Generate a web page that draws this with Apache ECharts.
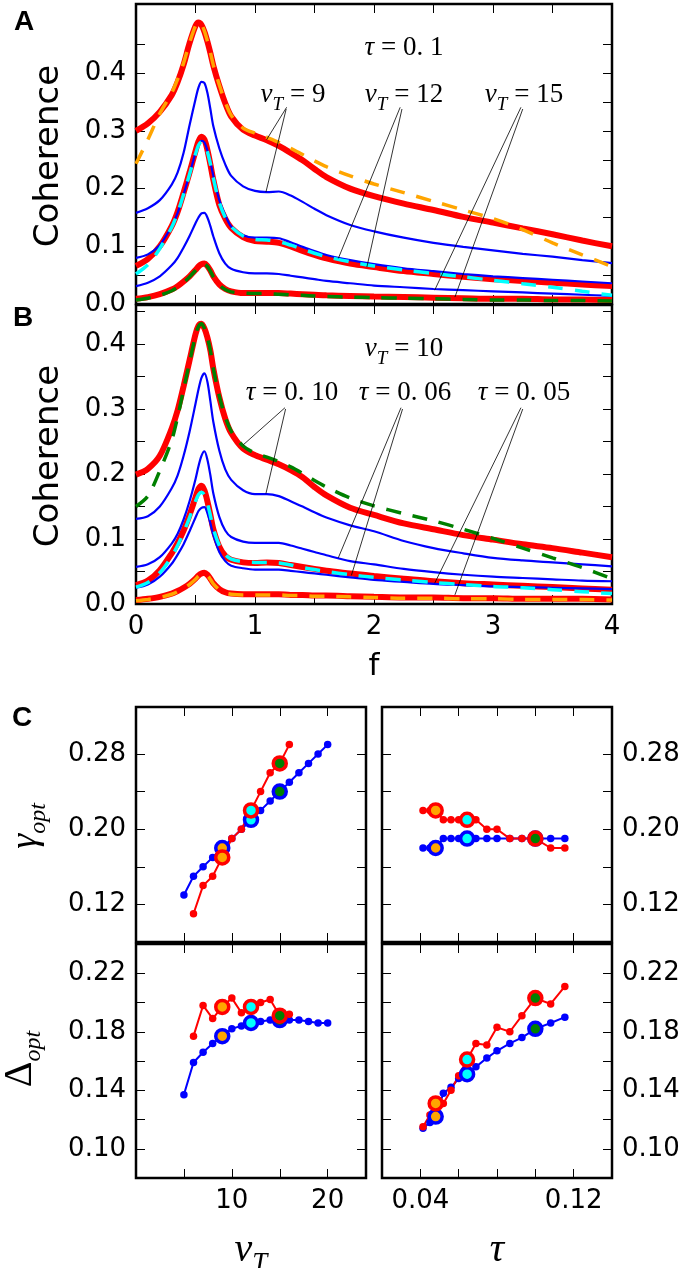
<!DOCTYPE html>
<html><head><meta charset="utf-8">
<script src="https://cdn.jsdelivr.net/npm/echarts@6/dist/echarts.min.js"></script>
<style>html,body{margin:0;padding:0;background:#fff}#c{width:685px;height:1268px}</style>
</head><body><div id="c"></div>
<script>
// ---------- Panels A & B : coherence vs f ----------
const F = [0,0.1,0.2,0.3,0.35,0.4,0.45,0.5,0.525,0.55,0.575,0.6,0.625,0.65,0.7,0.75,0.8,0.9,1.0,1.1,1.2,1.3,1.4,1.5,1.6,1.8,2.0,2.25,2.5,2.75,3.0,3.25,3.5,3.75,4.0];
// Panel A (tau = 0.1)
const aRed1 = [0.300,0.313,0.333,0.362,0.385,0.415,0.452,0.482,0.488,0.484,0.472,0.455,0.435,0.413,0.378,0.348,0.325,0.302,0.292,0.284,0.274,0.262,0.249,0.234,0.220,0.200,0.187,0.174,0.163,0.151,0.141,0.131,0.121,0.110,0.100];
const aOrange = [0.243,0.285,0.330,0.366,0.390,0.418,0.453,0.482,0.488,0.485,0.473,0.456,0.436,0.414,0.380,0.350,0.327,0.305,0.296,0.289,0.280,0.270,0.259,0.248,0.238,0.222,0.208,0.193,0.178,0.163,0.148,0.129,0.106,0.085,0.065];
const aBlue1 = [0.158,0.166,0.180,0.207,0.228,0.262,0.310,0.355,0.375,0.385,0.383,0.366,0.338,0.308,0.270,0.242,0.222,0.204,0.196,0.194,0.195,0.188,0.177,0.165,0.154,0.137,0.126,0.115,0.106,0.099,0.093,0.087,0.082,0.076,0.071];
const aRed2 = [0.066,0.078,0.100,0.135,0.160,0.193,0.228,0.265,0.282,0.290,0.285,0.267,0.242,0.215,0.172,0.148,0.132,0.116,0.109,0.108,0.106,0.100,0.092,0.085,0.079,0.070,0.064,0.057,0.052,0.047,0.043,0.040,0.037,0.034,0.031];
const aCyan = [0.052,0.068,0.096,0.133,0.158,0.190,0.225,0.260,0.275,0.281,0.278,0.264,0.243,0.218,0.176,0.150,0.134,0.118,0.112,0.111,0.108,0.102,0.095,0.088,0.082,0.073,0.066,0.059,0.053,0.047,0.041,0.035,0.029,0.022,0.015];
const aBlue2 = [0.080,0.086,0.102,0.135,0.158,0.190,0.225,0.262,0.276,0.283,0.280,0.266,0.246,0.222,0.180,0.154,0.134,0.119,0.115,0.115,0.114,0.107,0.099,0.092,0.085,0.076,0.069,0.062,0.057,0.052,0.048,0.045,0.042,0.039,0.036];
const aBlue3 = [0.031,0.037,0.048,0.067,0.080,0.098,0.118,0.140,0.150,0.157,0.158,0.150,0.135,0.117,0.088,0.070,0.061,0.055,0.053,0.053,0.052,0.049,0.046,0.043,0.040,0.036,0.032,0.029,0.026,0.024,0.022,0.020,0.018,0.016,0.014];
const aRed3 = [0.009,0.012,0.017,0.025,0.031,0.039,0.048,0.059,0.065,0.069,0.070,0.066,0.058,0.048,0.034,0.026,0.022,0.019,0.019,0.019,0.019,0.018,0.017,0.016,0.015,0.014,0.013,0.012,0.011,0.010,0.009,0.009,0.008,0.008,0.007];
const aGreen = [0.007,0.010,0.015,0.023,0.029,0.037,0.047,0.058,0.064,0.068,0.069,0.065,0.057,0.047,0.033,0.025,0.021,0.019,0.018,0.018,0.017,0.016,0.015,0.014,0.013,0.012,0.011,0.010,0.009,0.008,0.007,0.007,0.006,0.006,0.005];
// Panel B (v_T = 10)
const bRed1 = [0.199,0.208,0.228,0.270,0.298,0.335,0.375,0.415,0.428,0.431,0.424,0.410,0.390,0.362,0.318,0.285,0.263,0.239,0.229,0.222,0.215,0.206,0.195,0.180,0.167,0.148,0.137,0.124,0.115,0.106,0.099,0.092,0.086,0.079,0.072];
const bGreen = [0.150,0.166,0.205,0.252,0.288,0.330,0.372,0.413,0.427,0.431,0.424,0.410,0.390,0.362,0.320,0.288,0.266,0.243,0.232,0.226,0.219,0.211,0.201,0.190,0.180,0.163,0.151,0.139,0.128,0.115,0.101,0.086,0.071,0.056,0.039];
const bBlue1 = [0.131,0.135,0.150,0.178,0.198,0.228,0.265,0.308,0.330,0.348,0.355,0.342,0.312,0.280,0.236,0.207,0.191,0.175,0.169,0.169,0.166,0.158,0.150,0.141,0.133,0.121,0.112,0.097,0.086,0.078,0.071,0.067,0.064,0.061,0.058];
const bBlue2 = [0.057,0.061,0.072,0.093,0.108,0.130,0.158,0.192,0.212,0.228,0.235,0.222,0.198,0.170,0.134,0.113,0.103,0.096,0.094,0.094,0.094,0.090,0.085,0.080,0.075,0.066,0.061,0.054,0.049,0.045,0.042,0.040,0.038,0.036,0.035];
const bRed2 = [0.029,0.036,0.052,0.078,0.094,0.113,0.137,0.164,0.177,0.182,0.175,0.158,0.137,0.115,0.088,0.074,0.068,0.064,0.063,0.064,0.063,0.060,0.057,0.054,0.051,0.047,0.043,0.039,0.035,0.032,0.030,0.028,0.026,0.024,0.022];
const bCyan = [0.026,0.033,0.048,0.073,0.090,0.110,0.133,0.158,0.168,0.172,0.168,0.155,0.136,0.116,0.090,0.076,0.069,0.065,0.064,0.064,0.063,0.060,0.056,0.053,0.050,0.045,0.041,0.037,0.033,0.030,0.027,0.025,0.022,0.019,0.016];
const bBlue3 = [0.025,0.030,0.042,0.062,0.076,0.092,0.112,0.133,0.143,0.148,0.149,0.140,0.124,0.106,0.080,0.066,0.059,0.055,0.053,0.053,0.053,0.051,0.049,0.047,0.045,0.041,0.037,0.034,0.031,0.029,0.027,0.026,0.025,0.024,0.023];
const bRed3 = [0.006,0.008,0.011,0.016,0.020,0.025,0.031,0.039,0.044,0.047,0.048,0.045,0.039,0.032,0.023,0.018,0.016,0.015,0.015,0.015,0.015,0.014,0.014,0.013,0.013,0.012,0.011,0.010,0.010,0.009,0.009,0.008,0.008,0.008,0.007];
const bOrange = [0.005,0.007,0.010,0.015,0.019,0.024,0.030,0.038,0.043,0.046,0.047,0.044,0.038,0.031,0.022,0.017,0.015,0.014,0.014,0.014,0.014,0.013,0.013,0.012,0.012,0.011,0.010,0.009,0.009,0.008,0.008,0.007,0.007,0.007,0.006];
// annotation leader lines (data coords: [f, coherence])
const annA = [[[1.266,0.341],[1.098,0.285]],[[1.262,0.338],[1.092,0.194]],[[2.22,0.341],[1.70,0.079]],[[2.235,0.338],[1.94,0.064]],[[3.235,0.341],[2.51,0.024]],[[3.25,0.338],[2.68,0.012]]];
const annB = [[[1.252,0.302],[0.902,0.245]],[[1.257,0.300],[1.092,0.170]],[[2.227,0.302],[1.70,0.071]],[[2.24,0.300],[1.81,0.044]],[[3.235,0.302],[2.51,0.032]],[[3.25,0.300],[2.68,0.014]]];

// ---------- Panel C ----------
const vtBlue = [5,6,7,8,9,10,11,12,13,14,15,16,17,18,19,20];
const vtRed = [6,7,8,9,10,11,12,13,14,15,16];
const gammaVtBlue = [0.13,0.15,0.16,0.17,0.18,0.19,0.20,0.21,0.22,0.23,0.24,0.25,0.26,0.27,0.28,0.29];
const gammaVtRed = [0.11,0.14,0.15,0.17,0.19,0.20,0.22,0.24,0.26,0.27,0.29];
const deltaVtBlue = [0.137,0.159,0.166,0.172,0.177,0.182,0.184,0.186,0.187,0.188,0.188,0.188,0.188,0.187,0.186,0.186];
const deltaVtRed = [0.177,0.198,0.189,0.197,0.203,0.193,0.197,0.200,0.202,0.191,0.192];
const tauVals = [0.0414,0.045,0.048,0.052,0.056,0.060,0.0644,0.069,0.0747,0.080,0.0867,0.093,0.100,0.108,0.1154];
const gammaTauBlue = [0.18,0.18,0.18,0.19,0.19,0.19,0.19,0.19,0.19,0.19,0.19,0.19,0.19,0.19,0.19];
const gammaTauRed = [0.22,0.22,0.22,0.21,0.21,0.21,0.21,0.21,0.20,0.20,0.19,0.19,0.19,0.18,0.18];
const deltaTauBlue = [0.114,0.118,0.122,0.138,0.142,0.148,0.151,0.156,0.162,0.167,0.172,0.176,0.182,0.186,0.190];
const deltaTauRed = [0.115,0.123,0.131,0.131,0.140,0.150,0.161,0.172,0.171,0.183,0.180,0.191,0.203,0.199,0.211];
const hlVt = [9,12,15];
const hlTauIdx = [2,6,12];
const hlColors = ['#ffa500','#00ffff','#008000'];

// ---------- ticks / labels ----------
const fTicks = [0,0.5,1,1.5,2,2.5,3,3.5,4];
const fLabels = [0,1,2,3,4];
const cohTicks = [0,0.05,0.1,0.15,0.2,0.25,0.3,0.35,0.4,0.45];
const cohLabels = [0,0.1,0.2,0.3,0.4];
const vtTicks = [5,10,15,20];
const vtLabels = [10,20];
const tauTicks = [0.04,0.06,0.08,0.10,0.12];
const tauLabels = [0.04,0.12];
const gammaTicks = [0.12,0.16,0.20,0.24,0.28];
const gammaLabels = [0.12,0.20,0.28];
const deltaTicks = [0.10,0.12,0.14,0.16,0.18,0.20,0.22];
const deltaLabels = [0.10,0.14,0.18,0.22];

const RED='#ff0000', BLUE='#0000ff', ORANGE='#ffa500', CYAN='#00ffff', GREEN='#008000';
const LBL = {fontFamily:'DejaVu Sans', fontSize:26, color:'#000'};

function axis(gridIndex, position, min, max, ticks, labels, fmt) {
  return {
    type:'value', gridIndex, position, min, max,
    axisLine:{show:false, onZero:false},
    splitLine:{show:false},
    axisTick:{show:true, inside:true, length:9, lineStyle:{color:'#000', width:1}, customValues:ticks},
    axisLabel: labels ? Object.assign({show:true, customValues:labels, formatter:fmt, margin:10}, LBL) : {show:false}
  };
}
const f1 = v => v.toFixed(1), f2 = v => v.toFixed(2), f0 = v => String(Math.round(v));

const grids = [
  {left:136, top:4, width:476, height:300},
  {left:136, top:305, width:476, height:299},
  {left:136, top:707, width:230, height:235},
  {left:382, top:707, width:230, height:235},
  {left:136, top:944, width:230, height:234},
  {left:382, top:944, width:230, height:234}
].map(g => Object.assign({show:true, borderColor:'#000', borderWidth:2.5, backgroundColor:'transparent'}, g));

// two x axes (bottom, top) and two y axes (left, right) per grid: main axis index = 2*grid
const xAxis = [
  axis(0,'bottom',0,4,fTicks,null), axis(0,'top',0,4,fTicks,null),
  axis(1,'bottom',0,4,fTicks,fLabels,f0), axis(1,'top',0,4,fTicks,null),
  axis(2,'bottom',0,24,vtTicks,null), axis(2,'top',0,24,vtTicks,null),
  axis(3,'bottom',0.02,0.14,tauTicks,null), axis(3,'top',0.02,0.14,tauTicks,null),
  axis(4,'bottom',0,24,vtTicks,vtLabels,f0), axis(4,'top',0,24,vtTicks,null),
  axis(5,'bottom',0.02,0.14,tauTicks,tauLabels,f2), axis(5,'top',0.02,0.14,tauTicks,null)
];
const yAxis = [
  axis(0,'left',0,0.52,cohTicks,cohLabels,f1), axis(0,'right',0,0.52,cohTicks,null),
  axis(1,'left',0,0.46,cohTicks,cohLabels,f1), axis(1,'right',0,0.46,cohTicks,null),
  axis(2,'left',0.08,0.33,gammaTicks,gammaLabels,f2), axis(2,'right',0.08,0.33,gammaTicks,null),
  axis(3,'left',0.08,0.33,gammaTicks,null), axis(3,'right',0.08,0.33,gammaTicks,gammaLabels,f2),
  axis(4,'left',0.08,0.24,deltaTicks,deltaLabels,f2), axis(4,'right',0.08,0.24,deltaTicks,null),
  axis(5,'left',0.08,0.24,deltaTicks,null), axis(5,'right',0.08,0.24,deltaTicks,deltaLabels,f2)
];

function curve(g, vals, color, width, dashed, z) {
  return {type:'line', xAxisIndex:2*g, yAxisIndex:2*g, data:F.map((f,i)=>[f, vals[i]]),
    symbol:'none', showSymbol:false, smooth:0.3, silent:true, z:z,
    lineStyle:{color, width, type: dashed ? [15,12] : 'solid', cap:'butt'}};
}
function leaders(g, segs) {
  return {type:'lines', coordinateSystem:'cartesian2d', xAxisIndex:2*g, yAxisIndex:2*g, silent:true, z:10,
    data: segs.map(c => ({coords:c})), lineStyle:{color:'#000', width:0.8, opacity:1, curveness:0}};
}
function dotLine(g, xs, ys, color) {
  return {type:'line', xAxisIndex:2*g, yAxisIndex:2*g, data:xs.map((x,i)=>[x, ys[i]]), silent:true,
    symbol:'circle', symbolSize:7.5, showSymbol:true, itemStyle:{color, opacity:1}, lineStyle:{color, width:2}, z:3};
}
function bigDots(g, pts, ring) {
  return {type:'scatter', xAxisIndex:2*g, yAxisIndex:2*g, silent:true, symbolSize:13, z:5,
    data: pts.map((p,k)=>({value:p, itemStyle:{color:hlColors[k], borderColor:ring, borderWidth:3.5, opacity:1}}))};
}
const hlV = (xs, ys) => hlVt.map(v => [v, ys[xs.indexOf(v)]]);
const hlT = ys => hlTauIdx.map(i => [tauVals[i], ys[i]]);

const series = [
  curve(0,aRed1,RED,6,false,2), curve(0,aRed2,RED,6,false,2), curve(0,aRed3,RED,6,false,2),
  curve(0,aBlue1,BLUE,2.2,false,3), curve(0,aBlue2,BLUE,2.2,false,3), curve(0,aBlue3,BLUE,2.2,false,3),
  curve(0,aOrange,ORANGE,3.5,true,4), curve(0,aCyan,CYAN,3.5,true,4), curve(0,aGreen,GREEN,3.5,true,4),
  leaders(0, annA),
  curve(1,bRed1,RED,6,false,2), curve(1,bRed2,RED,6,false,2), curve(1,bRed3,RED,6,false,2),
  curve(1,bBlue1,BLUE,2.2,false,3), curve(1,bBlue2,BLUE,2.2,false,3), curve(1,bBlue3,BLUE,2.2,false,3),
  curve(1,bGreen,GREEN,3.5,true,4), curve(1,bCyan,CYAN,3.5,true,4), curve(1,bOrange,ORANGE,3.5,true,4),
  leaders(1, annB),
  dotLine(2, vtBlue, gammaVtBlue, BLUE), dotLine(2, vtRed, gammaVtRed, RED),
  bigDots(2, hlV(vtBlue, gammaVtBlue), BLUE), bigDots(2, hlV(vtRed, gammaVtRed), RED),
  dotLine(3, tauVals, gammaTauBlue, BLUE), dotLine(3, tauVals, gammaTauRed, RED),
  bigDots(3, hlT(gammaTauBlue), BLUE), bigDots(3, hlT(gammaTauRed), RED),
  dotLine(4, vtBlue, deltaVtBlue, BLUE), dotLine(4, vtRed, deltaVtRed, RED),
  bigDots(4, hlV(vtBlue, deltaVtBlue), BLUE), bigDots(4, hlV(vtRed, deltaVtRed), RED),
  dotLine(5, tauVals, deltaTauBlue, BLUE), dotLine(5, tauVals, deltaTauRed, RED),
  bigDots(5, hlT(deltaTauBlue), BLUE), bigDots(5, hlT(deltaTauRed), RED)
];

// ---------- text ----------
function mathRich(size, subSize, lh) {
  return {
    it:{fontFamily:'Liberation Serif', fontStyle:'italic', fontSize:size, lineHeight:lh, verticalAlign:'middle', fill:'#000'},
    rm:{fontFamily:'Liberation Serif', fontSize:size, lineHeight:lh, verticalAlign:'middle', fill:'#000'},
    sub:{fontFamily:'Liberation Serif', fontStyle:'italic', fontSize:subSize, lineHeight:Math.round(subSize*1.1), verticalAlign:'bottom', fill:'#000'}
  };
}
function T(x, y, text, opts) {
  opts = opts || {};
  return {type:'text', x, y, rotation: opts.rot || 0, silent:true, z:20,
    style: Object.assign({text, align:'center', verticalAlign:'middle', fill:'#000'}, opts.style || {})};
}
const R27 = mathRich(27, 19, 38);
const graphic = [
  T(24, 22, 'A', {style:{font:'bold 28px "Liberation Sans"'}}),
  T(23, 318, 'B', {style:{font:'bold 28px "Liberation Sans"'}}),
  T(22, 718, 'C', {style:{font:'bold 28px "Liberation Sans"'}}),
  T(49, 156, 'Coherence', {rot:Math.PI/2, style:{font:'34px "DejaVu Sans"'}}),
  T(49, 456, 'Coherence', {rot:Math.PI/2, style:{font:'34px "DejaVu Sans"'}}),
  T(374, 667, 'f', {style:{font:'31px "DejaVu Sans"'}}),
  T(404, 48, '{it|τ}{rm| = 0. 1}', {style:{rich:R27}}),
  T(293, 95, '{it|v}{sub|T}{rm| = 9}', {style:{rich:R27}}),
  T(404, 95, '{it|v}{sub|T}{rm| = 12}', {style:{rich:R27}}),
  T(524, 95, '{it|v}{sub|T}{rm| = 15}', {style:{rich:R27}}),
  T(404, 349, '{it|v}{sub|T}{rm| = 10}', {style:{rich:R27}}),
  T(292, 393, '{it|τ}{rm| = 0. 10}', {style:{rich:R27}}),
  T(405, 393, '{it|τ}{rm| = 0. 06}', {style:{rich:R27}}),
  T(524, 393, '{it|τ}{rm| = 0. 05}', {style:{rich:R27}}),
  T(26, 826, '{it|γ}{sub|opt}', {rot:Math.PI/2, style:{rich:mathRich(38, 24, 50)}}),
  T(20, 1059, '{rm|Δ}{sub|opt}', {rot:Math.PI/2, style:{rich:mathRich(40, 24, 52)}}),
  T(251, 1250, '{it|v}{sub|T}', {style:{rich:mathRich(40, 27, 54)}}),
  T(497, 1250, '{it|τ}', {style:{rich:mathRich(40, 27, 54)}})
];

const chart = echarts.init(document.getElementById('c'), null, {renderer:'canvas'});
chart.setOption({animation:false, backgroundColor:'#fff', grid:grids, xAxis, yAxis, series, graphic});
</script></body></html>
